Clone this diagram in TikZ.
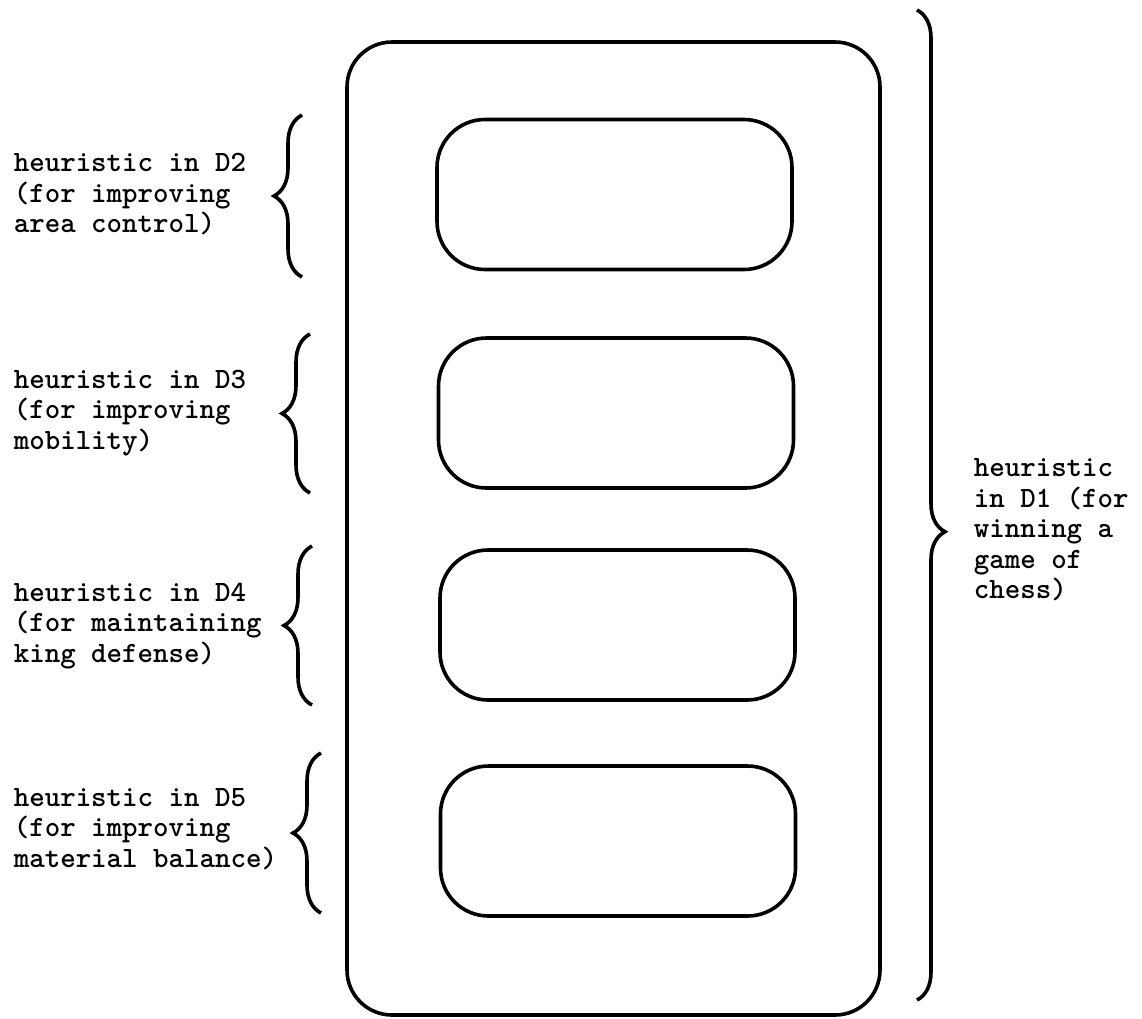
\documentclass[tikz,border=0pt]{standalone}
\usepackage{fontspec}
\usetikzlibrary{decorations.pathreplacing}
\begin{document}
\begin{tikzpicture}[x=1pt,y=-1pt,line width=3.6pt,
  box/.style={draw,rounded corners=48pt,minimum width=355pt,minimum height=150pt,inner sep=0pt},
  curly/.style={decorate,decoration={brace,amplitude=28pt,#1}},
  curly/.default={aspect=0.5},
  note/.style={anchor=west,align=left,inner sep=0pt,
    font=\ttfamily\bfseries\fontsize{29.5}{30.5}\selectfont}]
  \useasboundingbox (0,0) rectangle (1142,1018);
  % outer box and the four sub-domains
  \node[draw,rounded corners=45pt,minimum width=533pt,minimum height=973pt,inner sep=0pt] (d1) at (613.5,528.5) {};
  \node[box] (d2) at (614.5,194.5) {};
  \node[box] (d3) at (616,413) {};
  \node[box] (d4) at (617.5,625) {};
  \node[box] (d5) at (618,841) {};
  % braces
  \draw[curly] (302,277) -- (302,115);
  \draw[curly] (310,493) -- (310,334);
  \draw[curly] (312,705) -- (312,546);
  \draw[curly] (321,913) -- (321,753);
  \draw[curly={aspect=0.527}] (917,10) -- (917,1000);
  % labels
  \node[note] (h2) at (12,194) {heuristic in D2\\(for improving\\area control)};
  \node[note] (h3) at (12,413) {heuristic in D3\\(for improving\\mobility)};
  \node[note] (h4) at (12,626) {heuristic in D4\\(for maintaining\\king defense)};
  \node[note] (h5) at (12,829) {heuristic in D5\\(for improving\\material balance)};
  \node[note] (h1) at (972,530) {heuristic\\in D1 (for\\winning a\\game of\\chess)};
\end{tikzpicture}
\end{document}
